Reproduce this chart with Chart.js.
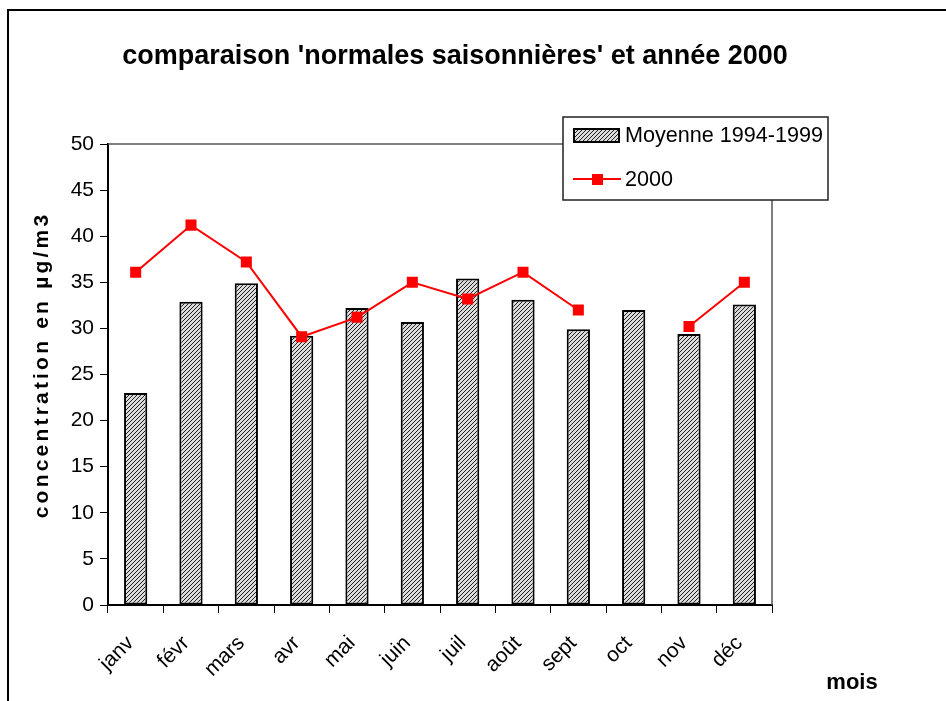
<!DOCTYPE html>
<html>
<head>
<meta charset="utf-8">
<script src="https://cdn.jsdelivr.net/npm/chart.js@4/dist/chart.umd.min.js"></script>
<style>
  html, body { margin: 0; padding: 0; background: #fff; }
  canvas { display: block; }
</style>
</head>
<body>
<canvas id="chart" width="946" height="701"></canvas>
<script>
// données
const mois = ['janv', 'févr', 'mars', 'avr', 'mai', 'juin', 'juil', 'août', 'sept', 'oct', 'nov', 'déc'];
const moyenne = [23.0, 32.9, 34.9, 29.2, 32.2, 30.7, 35.4, 33.1, 29.9, 32.0, 29.4, 32.6];
const annee2000 = [36.1, 41.2, 37.2, 29.1, 31.2, 35.0, 33.2, 36.1, 32.0, null, 30.2, 35.0];
const yTicks = [0, 5, 10, 15, 20, 25, 30, 35, 40, 45, 50];

const titre = "comparaison 'normales saisonnières' et année 2000";
const titreY = 'concentration en µg/m3';
const titreX = 'mois';
const FONT = '"Liberation Sans", Arial, sans-serif';

// hachures des barres
function makeHatch() {
  const c = document.createElement('canvas');
  c.width = 4; c.height = 4;
  const g = c.getContext('2d');
  g.fillStyle = '#dcdcdc';
  g.fillRect(0, 0, 4, 4);
  g.fillStyle = '#1e1e1e';
  for (let i = 0; i < 4; i++) g.fillRect(i, 3 - i, 1, 1);
  return g.createPattern(c, 'repeat');
}
const hatch = makeHatch();

// cadre, titres, bordure de la zone de tracé, légende
const decor = {
  id: 'decor',
  beforeDatasetsDraw(chart) {
    const { ctx, chartArea: a } = chart;
    ctx.save();
    ctx.strokeStyle = '#555';
    ctx.lineWidth = 1.5;
    ctx.beginPath();
    ctx.moveTo(a.left, a.top);
    ctx.lineTo(a.right, a.top);
    ctx.lineTo(a.right, a.bottom);
    ctx.stroke();
    ctx.restore();
  },
  afterDraw(chart) {
    const { ctx } = chart;
    ctx.save();
    // cadre extérieur
    ctx.strokeStyle = '#000';
    ctx.lineWidth = 2;
    ctx.beginPath();
    ctx.moveTo(8, 701);
    ctx.lineTo(8, 10);
    ctx.lineTo(946, 10);
    ctx.stroke();

    ctx.fillStyle = '#000';
    ctx.textAlign = 'center';
    ctx.textBaseline = 'middle';
    ctx.font = 'bold 27px ' + FONT;
    ctx.fillText(titre, 455, 57);

    ctx.font = 'bold 22px ' + FONT;
    ctx.fillText(titreX, 852, 683);

    ctx.save();
    ctx.translate(42, 367);
    ctx.rotate(-Math.PI / 2);
    ctx.font = 'bold 21px ' + FONT;
    ctx.letterSpacing = '3.2px';
    ctx.fillText(titreY, 2, 0);
    ctx.restore();

    // légende
    const lx = 563, ly = 117, lw = 265, lh = 83;
    ctx.fillStyle = '#fff';
    ctx.fillRect(lx, ly, lw, lh);
    ctx.strokeStyle = '#222';
    ctx.lineWidth = 1.5;
    ctx.strokeRect(lx, ly, lw, lh);

    const ds = chart.data.datasets;
    ctx.fillStyle = hatch;
    ctx.fillRect(574, 129, 45, 13);
    ctx.strokeStyle = '#000';
    ctx.lineWidth = 2;
    ctx.strokeRect(574, 129, 45, 13);

    ctx.strokeStyle = '#ff0000';
    ctx.beginPath();
    ctx.moveTo(573, 179);
    ctx.lineTo(621, 179);
    ctx.stroke();
    ctx.fillStyle = '#ff0000';
    ctx.fillRect(592, 174, 11, 11);

    ctx.fillStyle = '#000';
    ctx.textAlign = 'left';
    ctx.font = '21.6px ' + FONT;
    ctx.fillText(ds[0].label, 625, 136);
    ctx.fillText(ds[1].label, 625, 180);
    ctx.restore();
  }
};

new Chart(document.getElementById('chart'), {
  data: {
    labels: mois,
    datasets: [
      {
        type: 'bar',
        label: 'Moyenne 1994-1999',
        data: moyenne,
        backgroundColor: hatch,
        borderColor: '#000',
        borderWidth: 2,
        borderSkipped: false,
        barPercentage: 0.42,
        categoryPercentage: 1,
        order: 1
      },
      {
        type: 'line',
        label: '2000',
        data: annee2000,
        borderColor: '#ff0000',
        backgroundColor: '#ff0000',
        borderWidth: 2,
        pointStyle: 'rect',
        pointRadius: 7.8,
        pointBorderWidth: 0,
        spanGaps: false,
        order: 0
      }
    ]
  },
  options: {
    responsive: false,
    animation: false,
    layout: { padding: { top: 144, right: 174, left: 0, bottom: 0 } },
    plugins: {
      legend: { display: false },
      title: { display: false },
      tooltip: { enabled: false }
    },
    scales: {
      x: {
        offset: true,
        grid: { offset: true, drawOnChartArea: false, tickLength: 8, color: '#000' },
        border: { color: '#000', width: 2 },
        ticks: {
          color: '#000',
          font: { family: FONT, size: 21 },
          minRotation: 45,
          maxRotation: 45,
          padding: 18,
          labelOffset: -5
        },
        afterFit(s) { s.height = 96; }
      },
      y: {
        min: 0,
        max: 50,
        afterBuildTicks(s) { s.ticks = yTicks.map(v => ({ value: v })); },
        grid: { drawOnChartArea: false, tickLength: 8, color: '#000' },
        border: { color: '#000', width: 2 },
        ticks: {
          color: '#000',
          font: { family: FONT, size: 21 },
          padding: 6
        },
        afterFit(s) { s.width = 108; }
      }
    }
  },
  plugins: [decor]
});
</script>
</body>
</html>
